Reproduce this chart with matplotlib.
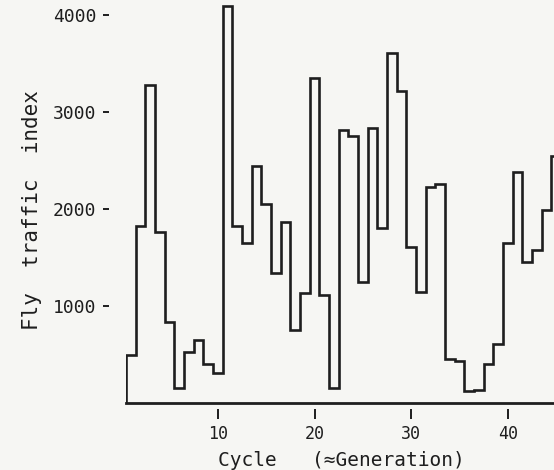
import matplotlib
matplotlib.use("Agg")
import matplotlib.pyplot as plt
import numpy as np

# fly traffic index per cycle
cycles = list(range(1, 46))
traffic = [500, 1820, 3280, 1760, 840, 155, 530, 650, 400, 310,
           4090, 1820, 1650, 2440, 2050, 1340, 1865, 750, 1130, 3350,
           1110, 155, 2810, 2750, 1250, 2840, 1800, 3610, 3220, 1610,
           1140, 2230, 2260, 450, 430, 120, 135, 405, 610, 1650,
           2380, 1450, 1580, 1990, 2550]
xticks = [10, 20, 30, 40]
yticks = [1000, 2000, 3000, 4000]

ink = "#1e1e1e"
paper = "#f6f6f3"
# lettering-guide look: monoline, evenly spaced
plt.rcParams["font.family"] = ["DejaVu Sans Mono", "DejaVu Sans"]

fig = plt.figure(figsize=(5.54, 4.70), dpi=100, facecolor=paper)
ax = fig.add_axes([126/554, 67/470, 1 - 126/554, 403/470])
ax.set_facecolor(paper)

edges = np.array(cycles + [cycles[-1] + 1]) - 0.5
ax.stairs(traffic, edges, baseline=0, color=ink, lw=1.9)
ax.axhline(0, color=ink, lw=2.0, clip_on=False)

ax.set_xlim(0.5, 44.76)
ax.set_ylim(0, 4155)

for s in ["top", "right", "left", "bottom"]:
    ax.spines[s].set_visible(False)
ax.spines["left"].set_position(("outward", 12))
ax.spines["bottom"].set_position(("outward", 4))

ax.set_xticks(xticks)
ax.set_yticks(yticks)
ax.tick_params(axis="x", direction="out", length=7, width=1.4, color=ink,
               pad=5, labelsize=12, labelcolor=ink)
ax.tick_params(axis="y", direction="out", length=4.5, width=1.4, color=ink,
               pad=5, labelsize=13, labelcolor=ink)

fig.text(32/554, 1 - 210/470, "Fly  traffic  index", rotation=90,
         ha="center", va="center", fontsize=15, color=ink)
fig.text(341/554, 1 - 460/470, "Cycle   (\u2248Generation)",
         ha="center", va="center", fontsize=14, color=ink)

fig.savefig("out.png", dpi=100, facecolor=paper)
